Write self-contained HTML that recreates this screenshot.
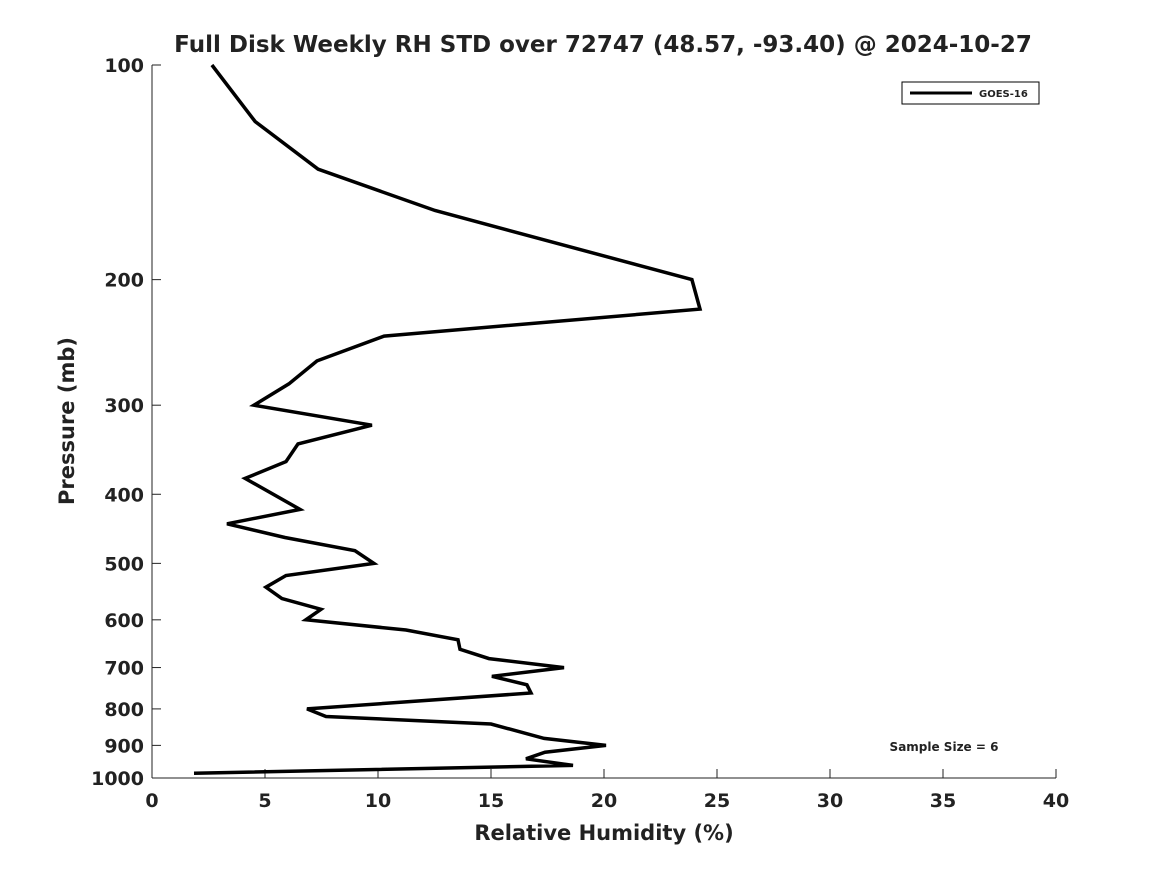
<!DOCTYPE html>
<html><head><meta charset="utf-8"><style>
body{margin:0;background:#fff;font-family:"Liberation Sans","DejaVu Sans",sans-serif}
svg text{font-family:"DejaVu Sans","Liberation Sans",sans-serif;font-weight:bold;fill:#222}
</style></head><body>
<svg id="chart" width="1167" height="875">
<text x="603" y="52" text-anchor="middle" font-size="23">Full Disk Weekly RH STD over 72747 (48.57, -93.40) @ 2024-10-27</text>
<g id="axes"></g>
<path id="line" fill="none" stroke="#000" stroke-width="3.5" stroke-linejoin="miter"></path>
<g>
<rect x="902" y="82" width="137" height="22" fill="#fff" stroke="#000" stroke-width="1"/>
<line x1="910" y1="93" x2="972" y2="93" stroke="#000" stroke-width="3"/>
<text x="979" y="97" font-size="10">GOES-16</text>
</g>
<text x="944" y="751" text-anchor="middle" font-size="12">Sample Size = 6</text>
<text x="604" y="840" text-anchor="middle" font-size="21">Relative Humidity (%)</text>
<text transform="translate(74,421) rotate(-90)" text-anchor="middle" font-size="21">Pressure (mb)</text>
</svg>
<script>
const pressures=[100,120,140,160,200,220,240,260,280,300,320,340,360,380,420,440,460,480,500,520,540,560,580,600,620,640,660,680,700,720,740,760,800,820,840,880,900,920,940,960,985];
const rhStd=[2.65,4.56,7.35,12.52,23.89,24.25,10.27,7.3,6.06,4.51,9.73,6.46,5.93,4.12,6.55,3.32,5.88,8.98,9.82,5.93,5.04,5.75,7.48,6.81,11.24,13.54,13.63,14.91,18.23,15.04,16.59,16.77,6.86,7.7,15.0,17.35,20.09,17.39,16.55,18.63,1.86];
const xTicks=[0,5,10,15,20,25,30,35,40];
const yTicks=[100,200,300,400,500,600,700,800,900,1000];
const X0=152,X1=1056,Y0=65,Y1=778;
function xs(v){return X0+(v-0)/(40-0)*(X1-X0);}
function ys(p){return Y0+(Math.log10(p)-2)/1*(Y1-Y0);}
const ns="http://www.w3.org/2000/svg";
const ax=document.getElementById('axes');
function mk(t,a){const e=document.createElementNS(ns,t);for(const k in a)e.setAttribute(k,a[k]);ax.appendChild(e);return e;}
const xa=mk('line',{x1:X0,y1:Y1,x2:X1,y2:Y1,stroke:'#222','stroke-width':1});


const ya=mk('line',{x1:X0,y1:Y0,x2:X0,y2:Y1,stroke:'#222','stroke-width':1});


xTicks.forEach(v=>{
 mk('line',{x1:xs(v),y1:Y1,x2:xs(v),y2:Y1-9,stroke:'#222'});
 const t=mk('text',{x:xs(v),y:Y1+29,'text-anchor':'middle','font-size':19});
 t.textContent=v;
 
 
});
yTicks.forEach(p=>{
 mk('line',{x1:X0,y1:ys(p),x2:X0+9,y2:ys(p),stroke:'#222'});
 const t=mk('text',{x:X0-8,y:ys(p)+7,'text-anchor':'end','font-size':19});
 t.textContent=p;
 
 
});
document.getElementById('line').setAttribute('d',pressures.map((p,i)=>(i?'L':'M')+xs(rhStd[i]).toFixed(1)+','+ys(p).toFixed(1)).join(''));
</script>
</body></html>
